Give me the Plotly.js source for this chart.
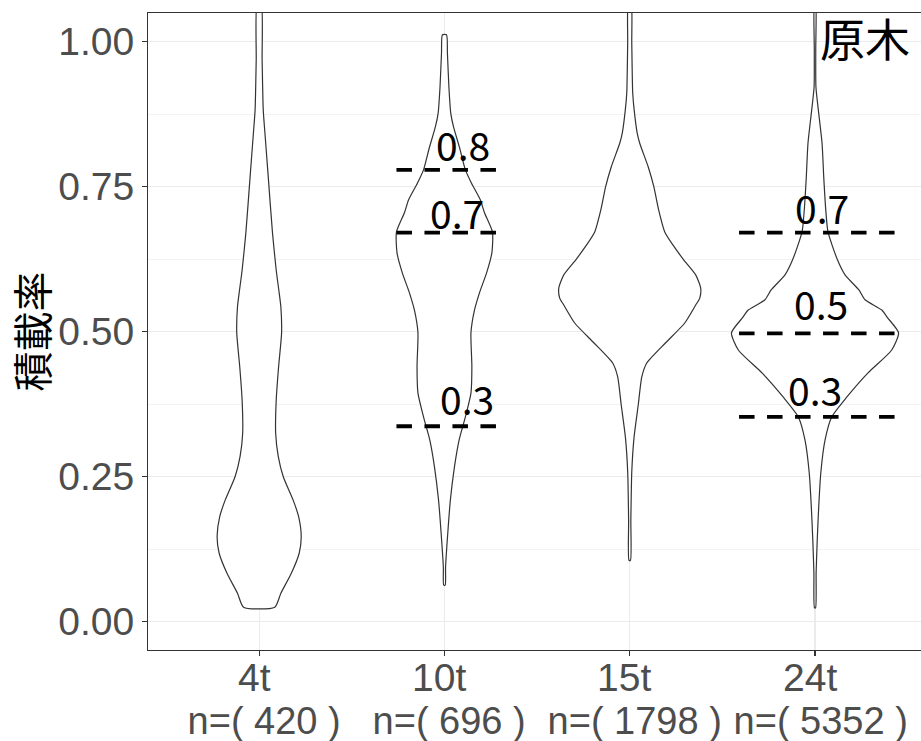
<!DOCTYPE html>
<html>
<head>
<meta charset="utf-8">
<script src="https://cdn.plot.ly/plotly-3.0.1.min.js"></script>
<style>html,body{margin:0;padding:0;background:#fff;}#chart{width:921px;height:741px;}</style>
</head>
<body>
<div id="chart"></div>
<script>
// ---- data ----
const categories = ['4t', '10t', '15t', '24t'];
const counts = [420, 696, 1798, 5352];

// violin outlines: value (積載率) and half-width (in category units), bottom to top
const v4Y = [0.025, 0.049, 0.083, 0.118, 0.147, 0.181, 0.210, 0.250, 0.285, 0.325, 0.382, 0.440, 0.498, 0.543, 0.567, 0.606, 0.670, 0.767, 0.843, 0.882, 0.968, 1.07];
const v4W = [0.084, 0.117, 0.173, 0.216, 0.227, 0.213, 0.183, 0.130, 0.103, 0.089, 0.092, 0.105, 0.121, 0.117, 0.108, 0.092, 0.072, 0.049, 0.031, 0.022, 0.016, 0.010];

const v10Y = [0.063, 0.094, 0.153, 0.210, 0.267, 0.313, 0.353, 0.394, 0.440, 0.498, 0.537, 0.567, 0.601, 0.636, 0.672, 0.705, 0.727, 0.756, 0.779, 0.818, 0.853, 0.877, 0.922, 0.980, 1.012];
const v10W = [0.004, 0.006, 0.018, 0.032, 0.054, 0.079, 0.113, 0.143, 0.148, 0.143, 0.162, 0.189, 0.227, 0.256, 0.259, 0.216, 0.194, 0.146, 0.113, 0.081, 0.049, 0.034, 0.024, 0.016, 0.011];

const v15Y = [0.106, 0.175, 0.258, 0.317, 0.374, 0.422, 0.446, 0.481, 0.515, 0.546, 0.558, 0.575, 0.598, 0.624, 0.650, 0.672, 0.710, 0.750, 0.784, 0.825, 0.843, 0.882, 0.912, 0.998, 1.07];
const v15W = [0.004, 0.006, 0.011, 0.023, 0.046, 0.065, 0.092, 0.194, 0.297, 0.356, 0.378, 0.383, 0.356, 0.291, 0.232, 0.189, 0.156, 0.130, 0.100, 0.054, 0.040, 0.024, 0.016, 0.011, 0.007];

const v24Y = [0.024, 0.084, 0.141, 0.198, 0.256, 0.313, 0.353, 0.387, 0.429, 0.468, 0.498, 0.525, 0.537, 0.555, 0.572, 0.598, 0.624, 0.672, 0.710, 0.767, 0.825, 0.882, 0.922, 0.986, 1.07];
const v24W = [0.003, 0.006, 0.012, 0.020, 0.031, 0.054, 0.090, 0.171, 0.286, 0.413, 0.451, 0.389, 0.362, 0.270, 0.237, 0.162, 0.121, 0.070, 0.058, 0.047, 0.038, 0.018, 0.005, 0.004, 0.003];

// quantile reference lines and their labels
const q10Vals = [0.779, 0.671, 0.337];
const q10Labels = ['0.8', '0.7', '0.3'];
const q10LabelX = [2.101, 2.070, 2.121];
const q10LabelY = [0.8245, 0.707, 0.385];

const q24Vals = [0.671, 0.497, 0.353];
const q24Labels = ['0.7', '0.5', '0.3'];
const q24LabelX = [4.038, 4.031, 4.0];
const q24LabelY = [0.715, 0.549, 0.402];

const cornerLabel = '原木';
const yTitle = '積載率';

// ---- build ----
const profiles = [[v4Y, v4W], [v10Y, v10W], [v15Y, v15W], [v24Y, v24W]];
const traces = [];
profiles.forEach(function (p, i) {
  const c = i + 1, ys = p[0], ws = p[1];
  const x = [], y = [];
  for (let k = 0; k < ys.length; k++) { x.push(c + ws[k]); y.push(ys[k]); }
  for (let k = ys.length - 1; k >= 0; k--) { x.push(c - ws[k]); y.push(ys[k]); }
  x.push(c + ws[0]); y.push(ys[0]);
  traces.push({
    type: 'scatter', mode: 'lines', x: x, y: y,
    fill: 'toself', fillcolor: '#ffffff',
    line: { color: '#333333', width: 1.2, shape: 'spline', smoothing: 0.6 },
    hoverinfo: 'skip', showlegend: false
  });
});

function qLines(center, vals, lo, hi) {
  vals.forEach(function (v) {
    traces.push({
      type: 'scatter', mode: 'lines', x: [center + lo, center + hi], y: [v, v],
      line: { color: '#000000', width: 3.8, dash: '15.5px,12.5px' },
      hoverinfo: 'skip', showlegend: false
    });
  });
}
qLines(2, q10Vals, -0.259, 0.281);
qLines(4, q24Vals, -0.41, 0.432);

const annotations = [];
const labFont = { family: 'Noto Sans CJK JP, Noto Sans, sans-serif', size: 39, color: '#000000' };
q10Labels.forEach(function (t, i) {
  annotations.push({ x: q10LabelX[i], y: q10LabelY[i], xref: 'x', yref: 'y', text: t, showarrow: false,
    xanchor: 'center', yanchor: 'middle', font: labFont });
});
q24Labels.forEach(function (t, i) {
  annotations.push({ x: q24LabelX[i], y: q24LabelY[i], xref: 'x', yref: 'y', text: t, showarrow: false,
    xanchor: 'center', yanchor: 'middle', font: labFont });
});
annotations.push({ x: 0.9884, y: 0.9615, xref: 'paper', yref: 'paper', text: cornerLabel, showarrow: false,
  xanchor: 'right', yanchor: 'middle', font: { family: 'Noto Sans CJK JP, sans-serif', size: 45, color: '#000000' } });
annotations.push({ x: -0.1514, y: 0.5, xref: 'paper', yref: 'paper', text: yTitle, showarrow: false,
  textangle: -90, xanchor: 'center', yanchor: 'middle',
  font: { family: 'Noto Sans CJK JP, sans-serif', size: 40, color: '#000000' } });

// x-axis labels: category line and count line
const tickFont = { family: 'Liberation Sans, Arial, sans-serif', size: 39, color: '#4D4D4D' };
const cntFont = { family: 'Liberation Sans, Arial, sans-serif', size: 38, color: '#4D4D4D' };
categories.forEach(function (c, i) {
  annotations.push({ x: i + 1, y: -0.0424, xref: 'x', yref: 'paper', text: c + '\u00A0',
    showarrow: false, xanchor: 'center', yanchor: 'middle', font: tickFont });
  annotations.push({ x: i + 1, y: -0.1115, xref: 'x', yref: 'paper', text: '\u00A0n=( ' + counts[i] + ' )',
    showarrow: false, xanchor: 'center', yanchor: 'middle', font: cntFont });
});

const layout = {
  width: 921, height: 741,
  margin: { l: 148, r: 0, t: 13, b: 91, pad: 0 },
  paper_bgcolor: '#ffffff', plot_bgcolor: '#ffffff',
  showlegend: false,
  xaxis: {
    range: [0.4, 4.572], tickmode: 'array', tickvals: [1, 2, 3, 4],
    ticktext: categories, showticklabels: false,
    showgrid: true, gridcolor: '#EBEBEB', gridwidth: 1.1, zeroline: false,
    showline: true, linecolor: '#333333', linewidth: 1.1, mirror: true,
    ticks: 'outside', ticklen: 5, tickwidth: 1.1, tickcolor: '#333333',
    fixedrange: true
  },
  yaxis: {
    range: [-0.0488, 1.0495], tickmode: 'linear', tick0: 0, dtick: 0.25, tickformat: '.2f',
    showgrid: true, gridcolor: '#EBEBEB', gridwidth: 1.1, zeroline: false,
    minor: { tick0: 0, dtick: 0.125, showgrid: true, gridcolor: '#EBEBEB', gridwidth: 0.6, ticks: '' },
    showline: true, linecolor: '#333333', linewidth: 1.1,
    ticks: 'outside', ticklen: 5, tickwidth: 1.1, tickcolor: '#333333',
    tickfont: tickFont, fixedrange: true
  },
  annotations: annotations
};

Plotly.newPlot('chart', traces, layout, { staticPlot: true, displayModeBar: false });
</script>
</body>
</html>
